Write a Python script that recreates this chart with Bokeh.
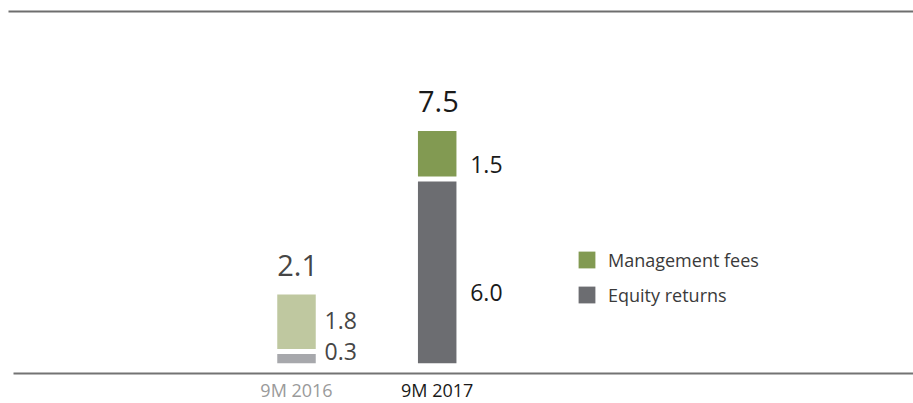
from bokeh.plotting import figure
from bokeh.models import ColumnDataSource, Range1d, Legend, LegendItem
from bokeh.core.properties import value
from bokeh.embed import file_html
from bokeh.resources import INLINE

# ---- data ----
periods = ["9M 2016", "9M 2017"]
equity_returns = [0.3, 6.0]
management_fees = [1.8, 1.5]
totals = [2.1, 7.5]
equity_labels = ["0.3", "6.0"]
fees_labels = ["1.8", "1.5"]
total_labels = ["2.1", "7.5"]

# ---- styles ----
equity_colors = ["#a7a8ac", "#6c6d71"]
fees_colors = ["#bfc8a0", "#829a52"]
value_text_colors = ["#464646", "#1a1a1a"]
period_text_colors = ["#9a9a9a", "#1a1a1a"]
FONT = "Open Sans"
FS_TOTAL, FS_VALUE, FS_PERIOD = 29, 23, 18
BASELINE_FIX = 0.42   # em, compensates the rendered baseline shift

# ---- geometry (pixels) ----
W, H = 913, 403
PX_Y = 30.3          # pixels per unit
PX_X = 140.7         # pixels per category step
X0_PX = 296.0        # canvas x of first bar centre
Y0_PX = 362.7        # canvas y of value zero
BAR_W_PX = 38.5
GAP_PX = 5.0
TOP_LINE_PX = 11.0
BASE_LINE_PX = 373.0
BASE_LINE_X0_PX = 13.0
TOP_LINE_X0_PX = 8.0
PERIOD_BASELINE_PX = 397.0

y_start = -(H - Y0_PX) / PX_Y
y_end = Y0_PX / PX_Y
x_start = -X0_PX / PX_X
x_end = (W - X0_PX) / PX_X
bar_w = BAR_W_PX / PX_X
gap = GAP_PX / PX_Y


def fix(fs):
    return BASELINE_FIX * fs / PX_Y


xs = list(range(len(periods)))
fee_bottom = [e + gap for e in equity_returns]
fee_top = [e + f + gap for e, f in zip(equity_returns, management_fees)]

# label offsets in pixels (dx right, dy down from segment middle)
seg_label_dx = [28, 33]
eq_label_dy = [3, 30]
fee_label_dy = [8, 20]
total_label_dy = -17

src = ColumnDataSource(dict(
    x=xs,
    eq_top=equity_returns,
    fee_bottom=fee_bottom,
    fee_top=fee_top,
    eq_color=equity_colors,
    fee_color=fees_colors,
    vcolor=value_text_colors,
    pcolor=period_text_colors,
    period=periods,
    eq_lab=equity_labels,
    fee_lab=fees_labels,
    tot_lab=total_labels,
    seg_lx=[x + dx / PX_X for x, dx in zip(xs, seg_label_dx)],
    eq_ly=[e / 2 - dy / PX_Y + fix(FS_VALUE) for e, dy in zip(equity_returns, eq_label_dy)],
    fee_ly=[(b + t) / 2 - dy / PX_Y + fix(FS_VALUE)
            for b, t, dy in zip(fee_bottom, fee_top, fee_label_dy)],
    tot_lx=[x - bar_w / 2 for x in xs],
    tot_ly=[t - total_label_dy / PX_Y + fix(FS_TOTAL) for t in fee_top],
    per_ly=[(Y0_PX - PERIOD_BASELINE_PX) / PX_Y + fix(FS_PERIOD) for _ in xs],
))

p = figure(width=W, height=H, output_backend="svg", toolbar_location=None,
           x_range=Range1d(x_start, x_end), y_range=Range1d(y_start, y_end),
           min_border=0, x_axis_type=None, y_axis_type=None)
p.grid.visible = False
p.outline_line_color = None
p.background_fill_color = "white"
p.border_fill_color = "white"

eq_r = p.vbar(x="x", width=bar_w, bottom=0, top="eq_top", source=src,
              fill_color="eq_color", line_color=None)
fee_r = p.vbar(x="x", width=bar_w, bottom="fee_bottom", top="fee_top", source=src,
               fill_color="fee_color", line_color=None)

p.text(x="seg_lx", y="eq_ly", text="eq_lab", source=src, text_color="vcolor",
       text_font=value(FONT), text_font_size=f"{FS_VALUE}px", text_baseline="alphabetic",
       text_align="left")
p.text(x="seg_lx", y="fee_ly", text="fee_lab", source=src, text_color="vcolor",
       text_font=value(FONT), text_font_size=f"{FS_VALUE}px", text_baseline="alphabetic",
       text_align="left")
p.text(x="tot_lx", y="tot_ly", text="tot_lab", source=src, text_color="vcolor",
       text_font=value(FONT), text_font_size=f"{FS_TOTAL}px", text_baseline="alphabetic",
       text_align="left")
p.text(x="x", y="per_ly", text="period", source=src, text_color="pcolor",
       text_font=value(FONT), text_font_size=f"{FS_PERIOD}px", text_baseline="alphabetic",
       text_align="center")

# rules
line_y_top = (Y0_PX - TOP_LINE_PX) / PX_Y
line_y_base = (Y0_PX - BASE_LINE_PX) / PX_Y
p.segment(x0=[x_start + TOP_LINE_X0_PX / PX_X], x1=[x_end],
          y0=[line_y_top], y1=[line_y_top],
          line_color="#6e6e6e", line_width=2)
p.segment(x0=[x_start + BASE_LINE_X0_PX / PX_X], x1=[x_end],
          y0=[line_y_base], y1=[line_y_base],
          line_color="#737373", line_width=2)

legend = Legend(items=[
    LegendItem(label="Management fees", renderers=[fee_r], index=1),
    LegendItem(label="Equity returns", renderers=[eq_r], index=1),
], location=(576, 96), orientation="vertical",
    glyph_width=21, glyph_height=21, label_standoff=11, spacing=10,
    padding=0, margin=0, border_line_color=None, background_fill_alpha=0,
    label_text_font=FONT, label_text_font_size="18px", label_text_color="#3a3a3a",
    label_height=25)
p.add_layout(legend, "center")

open("out.html", "w").write(file_html(p, INLINE))
